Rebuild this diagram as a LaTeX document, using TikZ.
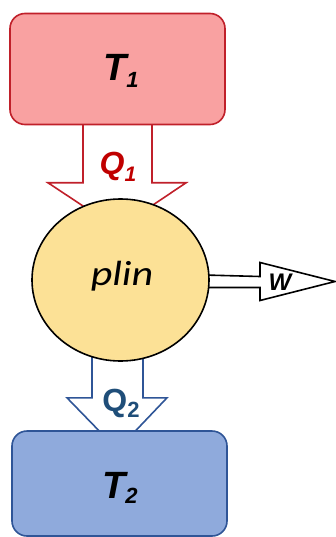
\documentclass[tikz,border=0pt]{standalone}
\usepackage{fontspec}
\usepackage{graphicx}
\setmainfont{Liberation Sans}
\newfontfamily\calfont{Carlito}
\usetikzlibrary{calc,shapes.geometric,backgrounds}
\definecolor{redfill}{HTML}{F9A1A1}
\definecolor{redline}{HTML}{C0202A}
\definecolor{qone}{HTML}{C00000}
\definecolor{yel}{HTML}{FCE196}
\definecolor{bluefill}{HTML}{8FAADC}
\definecolor{blueline}{HTML}{2F5597}
\definecolor{qtwo}{HTML}{1F4E79}
\begin{document}
\begin{tikzpicture}[x=1pt,y=-1pt,
  reservoir/.style={draw, line width=1.6pt, rounded corners=15pt, minimum width=215pt, inner sep=0pt},
  blockarrow/.style={line width=1.6pt, fill=white, line join=miter},
  lbl/.style={inner sep=0pt, anchor=base}]
\useasboundingbox (0,0) rectangle (336,537);
% reservoirs and engine
\node[reservoir, fill=redfill, draw=redline, minimum height=111pt] (t1) at (117.5,69) {};
\node[reservoir, fill=bluefill, draw=blueline, minimum height=105pt] (t2) at (119.5,483.5) {};
\node[ellipse, draw=black, fill=yel, line width=1.6pt, minimum width=177pt, minimum height=162pt, inner sep=0pt] (eng) at (120.5,280) {};
% arrows behind
\begin{pgfonlayer}{background}
\draw[blockarrow, draw=redline]
  ($(t1.south)+(-34.5,-6)$) -- ($(t1.south)+(-34.5,57.5)$) -- ($(t1.south)+(-69.5,57.5)$)
  -- ($(t1.south)+(0,103.5)$) -- ($(t1.south)+(68.5,57.5)$) -- ($(t1.south)+(34.5,57.5)$)
  -- ($(t1.south)+(34.5,-6)$);
\draw[blockarrow, draw=blueline]
  ($(eng.south)+(-28.5,-8)$) -- ($(eng.south)+(-28.5,36)$) -- ($(eng.south)+(-53.5,36)$)
  -- ($(eng.south)+(-3,88)$) -- ($(eng.south)+(46.5,36)$) -- ($(eng.south)+(22.5,36)$)
  -- ($(eng.south)+(22.5,-8)$);
\coordinate (wtip) at (335,281.5);
\draw[blockarrow, draw=black]
  ($(eng.east)+(-6,-5)$) -- (260,276.5) -- (260,262.5) -- (wtip) -- (260,300.5)
  -- (260,287.5) -- ($(eng.east)+(-6,7.5)$);
\end{pgfonlayer}
% labels
\node[lbl] (lt1) at (121,81) {\fontsize{38}{38}\selectfont\bfseries\itshape T\raisebox{-7pt}{\fontsize{22}{22}\selectfont 1}};
\node[lbl] (lq1) at (118,175) {\fontsize{32}{32}\selectfont\bfseries\itshape\color{qone}Q\raisebox{-7pt}{\fontsize{21}{21}\selectfont 1}};
\node[lbl] (lplin) at (122,285) {\scalebox{1.2}[1]{\calfont\itshape\fontsize{35}{35}\selectfont plin}};
\node[lbl] (lw) at (280,290) {\fontsize{24}{24}\selectfont\bfseries\itshape W};
\node[lbl] (lq2) at (121,411) {\fontsize{32}{32}\selectfont\bfseries\color{qtwo}Q\raisebox{-6pt}{\fontsize{22}{22}\selectfont 2}};
\node[lbl] (lt2) at (120,498) {\fontsize{38}{38}\selectfont\bfseries\itshape T\raisebox{-5pt}{\fontsize{22}{22}\selectfont 2}};
\end{tikzpicture}
\end{document}
